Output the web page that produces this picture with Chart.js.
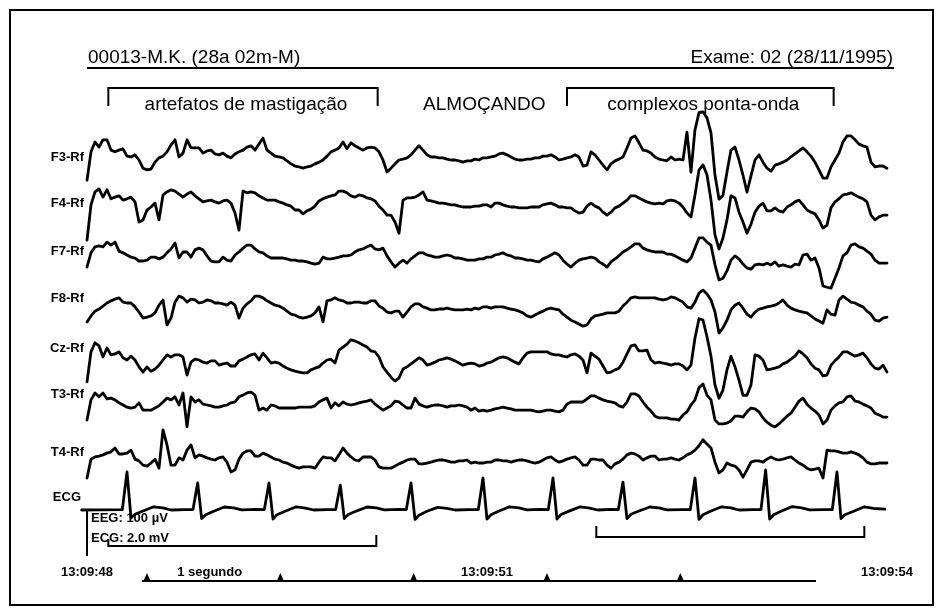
<!DOCTYPE html>
<html>
<head>
<meta charset="utf-8">
<script src="https://cdn.jsdelivr.net/npm/chart.js@4.4.1/dist/chart.umd.min.js"></script>
<style>
  html, body { margin: 0; padding: 0; background: #fff; }
  #wrap { width: 943px; height: 616px; }
</style>
</head>
<body>
<div id="wrap"><canvas id="eeg" width="943" height="616"></canvas></div>
<script>
// EEG page, 13:09:48 -> 13:09:54, one sample every 0.03 s, values in microvolts
const SAMPLE_STEP = 0.03;
const channelNames = ['F3-Rf', 'F4-Rf', 'F7-Rf', 'F8-Rf', 'Cz-Rf', 'T3-Rf', 'T4-Rf'];

const f3 = [
  -47,19,42,30,47,47,23,19,23,26,9,7,12,0,-19,-23,-21,-5,5,9,
  19,35,47,7,16,47,28,28,28,16,21,23,14,12,16,9,5,14,19,23,
  30,33,23,37,51,23,16,9,7,5,-2,-9,-14,-16,-19,-16,-14,-9,-5,0,
  9,19,23,28,42,26,40,33,28,23,28,30,28,19,0,-28,-19,-9,0,2,
  5,12,23,33,23,12,7,7,5,5,2,0,0,-2,-5,-2,-2,2,0,5,
  5,7,9,14,16,12,7,2,0,0,2,2,5,5,9,9,12,7,0,2,
  5,7,12,7,-14,-12,19,12,0,-12,-23,-9,-2,2,7,28,51,56,40,23,
  21,16,7,2,0,-2,7,0,2,0,65,-28,70,110,112,98,63,-35,-91,-82,
  -28,23,30,0,-35,-75,-37,0,12,-5,-19,-26,-12,-9,-5,0,7,14,21,28,
  19,9,-5,-23,-42,-42,-16,0,16,42,56,56,47,37,33,30,-5,-16,-14,-14,
  -19];
const f4 = [
  -77,5,35,42,23,40,19,23,26,16,19,23,12,-35,-30,-7,0,9,-30,28,
  35,40,37,30,23,30,35,26,19,12,14,16,12,9,14,16,9,-14,-54,37,
  33,35,33,26,21,16,16,16,12,9,5,2,-7,-7,-16,-9,-5,2,14,19,
  23,26,28,37,37,33,26,23,28,26,21,19,14,2,-7,-19,-19,-35,-61,16,
  21,21,23,28,35,16,14,12,9,9,7,5,5,2,0,0,0,2,2,5,
  5,0,9,9,5,2,0,0,-2,-2,-2,0,0,0,5,7,9,5,0,0,
  -2,-2,-9,-14,-12,2,9,2,-2,-12,-19,-12,-2,2,9,16,26,26,21,16,
  12,9,7,9,7,14,16,14,9,0,-14,-23,28,86,98,75,16,-65,-98,-72,
  -30,26,21,-12,-35,-61,-40,-12,2,9,-9,-9,-2,-9,-12,0,5,12,16,5,
  -7,-12,-16,-30,-49,-42,-2,12,19,28,30,33,28,23,19,12,-19,-30,-23,-19,
  -19];
const f7 = [
  -28,5,19,21,19,30,23,30,9,5,0,-5,-7,-14,-14,-12,-5,-5,-9,-5,
  5,14,28,-7,7,7,-5,12,16,12,-2,-14,-16,-16,-5,-12,-14,0,7,16,
  23,23,14,7,5,-2,-7,-7,-7,-7,-9,-12,-12,-14,-14,-16,-19,-21,-19,-5,
  -9,-9,-7,-5,-2,-2,0,7,12,14,19,23,14,12,16,-2,-16,-28,-19,-12,
  -19,-9,-2,5,5,0,-2,-5,-5,-2,0,-2,-7,-7,-9,-12,-12,-12,-9,-9,
  -5,-5,0,2,5,0,-2,-7,-7,-9,-12,-12,-14,-16,-9,-5,0,5,0,-12,
  -21,-28,-19,-12,-9,-7,-5,-7,-16,-21,-28,-16,-9,-2,7,12,19,26,26,16,
  12,9,7,7,7,2,2,-2,-7,-12,-16,-7,16,40,40,30,23,-23,-58,-54,
  -37,-12,-2,-9,-21,-30,-33,-23,-21,-23,-19,-23,-16,-26,-23,-26,-28,-21,-23,0,
  2,-12,-7,-30,-72,-75,-77,-54,-30,-2,5,23,26,19,16,9,2,-12,-19,-19,
  -19];
const f8 = [
  -44,-30,-19,-14,-7,0,5,9,12,2,0,0,-9,-21,-35,-33,-30,-23,-5,7,
  -51,-35,2,16,12,2,9,7,0,2,7,5,0,0,-2,-5,2,-5,-35,-12,
  -2,5,16,16,12,5,0,-5,-7,-12,-19,-26,-28,-33,-35,-33,-30,-23,-9,-44,
  5,7,12,7,5,0,0,2,2,0,0,5,5,-7,-12,-21,-23,-19,-19,-33,
  -21,-9,-2,-2,-9,-12,-16,-16,-14,-14,-12,-14,-16,-16,-16,-14,-16,-12,-14,-9,
  -9,-12,-9,-9,-9,-12,-14,-16,-19,-23,-30,-33,-28,-23,-19,-14,-12,-14,-16,-26,
  -33,-40,-44,-49,-54,-51,-37,-30,-28,-26,-23,-23,-23,-19,-7,2,12,14,12,12,
  12,12,12,9,7,9,14,12,7,2,-9,-12,2,23,30,21,7,-21,-70,-58,
  -40,-16,-5,0,-12,-26,-33,-21,-14,-12,-9,-7,-5,0,7,-5,-12,-16,-19,-21,
  -23,-30,-37,-42,-47,-16,-26,-28,7,16,9,2,0,-5,-9,-19,-26,-40,-42,-35,
  -33];
const cz = [
  -51,19,40,33,7,28,12,14,19,5,0,9,0,-16,-28,-16,-26,-21,-12,0,
  12,7,12,12,7,-35,-5,2,0,-5,-7,-2,-2,-12,-9,-7,-14,-14,-2,2,
  7,12,14,0,16,5,-7,-5,-7,-14,-19,-23,-26,-28,-30,-30,-23,-19,-16,-7,
  0,2,-7,23,30,37,47,44,40,35,30,21,19,7,-16,-28,-40,-49,-42,-21,
  -16,-9,-2,5,0,-12,-9,-5,0,2,5,2,-2,-7,-12,-9,-7,-9,-14,-12,
  -7,-5,0,5,7,5,0,-5,-9,5,16,19,19,19,19,19,14,12,12,9,
  7,12,14,9,0,-30,16,9,2,-14,-30,-28,-23,-19,-5,14,33,35,21,21,
  23,0,-7,-5,-7,-9,-12,-9,-9,-14,-23,-12,51,96,93,54,9,-58,-89,-70,
  -23,9,-16,-47,-82,-82,-58,12,9,0,-23,-21,-19,-16,-9,-5,2,9,21,14,
  5,-9,-19,-23,-37,-35,-12,-2,7,19,19,14,9,12,16,5,-9,-19,-21,-12,
  -28];
const t3 = [
  -35,12,28,19,28,14,16,12,5,0,-5,-7,-5,5,-12,-12,-12,-7,-2,7,
  16,12,19,0,28,-51,19,7,12,2,0,-2,-5,-5,-2,0,5,7,19,23,
  28,30,23,-12,-7,-12,0,-2,-7,-7,-7,-7,-7,-5,-5,-5,-5,-2,7,12,
  16,-7,5,-2,7,2,0,2,5,7,9,12,2,-5,-12,-7,-2,9,7,0,
  -7,-7,16,2,-2,-5,-2,0,0,-2,-5,-2,-2,0,-2,-5,-12,-7,-14,-12,
  -14,-12,-9,-7,-5,-7,-9,-12,-12,-12,-12,-12,-14,-16,-14,-12,-12,-14,-16,-12,
  2,7,7,7,7,14,21,21,16,12,9,7,5,-2,-5,7,26,26,21,7,
  -5,-14,-26,-30,-30,-30,-33,-33,-35,-23,-16,0,12,40,49,23,12,-35,-44,-44,
  -42,-37,-26,-26,-28,-16,-7,-9,-16,-30,-40,-47,-51,-44,-35,-26,-19,-5,9,16,
  2,-7,-14,-23,-44,-35,-12,-2,5,7,19,21,9,7,2,-2,-7,-19,-23,-28,
  -28];
const t4 = [
  -42,2,7,9,12,16,19,28,14,14,16,23,2,-2,-12,-14,-7,2,-19,70,
  35,-12,-12,5,0,23,35,5,12,9,5,2,0,5,7,-5,-28,-23,2,16,
  21,21,9,9,16,12,7,2,0,-5,-7,-12,-16,-19,-16,-16,-16,-19,-5,7,
  5,5,-2,12,28,16,7,0,-2,7,7,7,0,-16,-19,-19,-19,-14,-9,-5,
  0,2,2,-9,-9,-7,-5,-2,0,0,-2,-5,-5,-2,-2,0,-7,-5,-7,-7,
  -5,-5,0,0,-2,-2,-5,-2,0,0,-2,-5,-7,-5,0,5,7,0,-5,-2,
  2,5,7,0,-12,-12,2,2,0,0,-12,-19,-9,-5,2,12,16,14,9,0,
  5,9,9,0,2,2,5,2,0,5,12,16,23,33,47,37,28,-5,-30,-23,
  -7,-12,-14,-23,-40,-23,-5,-2,-2,-5,2,7,2,0,2,5,7,0,-7,-12,
  -19,-23,-21,-19,-42,23,21,21,19,16,16,19,16,12,5,-5,-9,-9,-7,-7,
  -7];
const eegSeries = [f3, f4, f7, f8, cz, t3, t4];

// ECG: [time s, millivolts]
const ecg = [
  [-0.04,0.00],[0.10,0.01],[0.265,0.02],[0.30,1.77],[0.33,-0.37],[0.36,-0.20],[0.42,-0.05],[0.50,0.15],[0.57,0.10],[0.63,0.00],[0.74,0.02],
  [0.795,0.02],[0.83,1.26],[0.86,-0.40],[0.89,-0.22],[0.95,-0.06],[1.03,0.14],[1.10,0.10],[1.16,0.01],[1.27,0.03],
  [1.33,0.02],[1.365,1.26],[1.395,-0.42],[1.425,-0.22],[1.49,-0.05],[1.57,0.15],[1.64,0.09],[1.70,0.00],[1.80,0.02],
  [1.865,0.02],[1.90,1.16],[1.93,-0.40],[1.96,-0.21],[2.02,-0.05],[2.10,0.14],[2.17,0.10],[2.23,0.01],[2.34,0.03],
  [2.395,0.02],[2.43,1.26],[2.46,-0.44],[2.49,-0.24],[2.55,-0.06],[2.63,0.12],[2.70,0.08],[2.76,0.00],[2.87,0.02],
  [2.935,0.02],[2.97,1.49],[3.00,-0.42],[3.03,-0.22],[3.09,-0.05],[3.17,0.15],[3.24,0.10],[3.30,0.01],[3.40,0.03],
  [3.46,0.02],[3.495,1.49],[3.525,-0.42],[3.555,-0.21],[3.62,-0.04],[3.70,0.15],[3.77,0.09],[3.83,0.00],[3.93,0.03],
  [3.985,0.02],[4.02,1.30],[4.05,-0.40],[4.08,-0.20],[4.14,-0.05],[4.22,0.14],[4.29,0.10],[4.35,0.01],[4.46,0.02],
  [4.525,0.02],[4.56,1.49],[4.59,-0.44],[4.62,-0.22],[4.68,-0.05],[4.76,0.15],[4.83,0.10],[4.89,0.00],[5.00,0.02],
  [5.055,0.02],[5.09,1.86],[5.12,-0.42],[5.15,-0.22],[5.21,-0.05],[5.29,0.16],[5.36,0.10],[5.42,0.01],[5.53,0.02],
  [5.59,0.02],[5.625,1.77],[5.655,-0.40],[5.685,-0.22],[5.75,-0.06],[5.83,0.15],[5.90,0.07],[5.985,0.04]
];

const timeLabels = ['13:09:48', '13:09:51', '13:09:54'];
const timeLabelSec = [0, 3, 6];
const secondMarks = [0.45, 1.45, 2.45, 3.45, 4.45];
const secondBar = [0.42, 5.46];
const eventNames = ['artefatos de mastigação', 'complexos ponta-onda'];
const eventSpans = [[0.16, 2.18], [3.6, 5.6]];
const ecgSpans = [[0.16, 2.17], [3.82, 5.83]];

// page layout (pixels)
const W = 943, H = 616;
const X0 = 87, PX_PER_S = 133.33;
const UV_PER_PX = 100 / 43;      // 100 uV calibration = 43 px
const ECG_GAIN = 50;             // 2.0 mV drawn like 100 uV
const traceRows = [160, 207, 255, 303, 360, 405, 460];
const labelRows = [157, 203, 251, 298, 348, 394, 452];
const ECG_ROW = 510;
const FONT = '"Liberation Sans", Arial, sans-serif';

const datasets = eegSeries.map((vals, k) => ({
  label: channelNames[k],
  data: vals.map((v, i) => ({ x: i * SAMPLE_STEP, y: -traceRows[k] * UV_PER_PX + v })),
}));
datasets.push({
  label: 'ECG',
  data: ecg.map(([t, mv]) => ({ x: t, y: -ECG_ROW * UV_PER_PX + mv * ECG_GAIN })),
});
datasets.forEach(d => Object.assign(d, {
  borderColor: '#000', borderWidth: 2.8, pointRadius: 0, tension: 0,
  borderJoinStyle: 'round', borderCapStyle: 'round', clip: false
}));

const decor = {
  id: 'decor',
  afterDraw(chart) {
    const ctx = chart.ctx;
    const xs = chart.scales.x, ys = chart.scales.y;
    const px = t => xs.getPixelForValue(t);
    const line = (pts, w) => {
      ctx.lineWidth = w || 2;
      ctx.beginPath();
      pts.forEach(([x, y], i) => i ? ctx.lineTo(x, y) : ctx.moveTo(x, y));
      ctx.stroke();
    };
    ctx.save();
    ctx.strokeStyle = '#000';
    ctx.fillStyle = '#000';
    ctx.lineCap = 'square';

    // frame
    ctx.lineWidth = 2;
    ctx.strokeRect(10, 10, W - 20, H - 21);

    // header
    ctx.font = '19px ' + FONT;
    ctx.textBaseline = 'alphabetic';
    ctx.textAlign = 'left';
    ctx.fillText('00013-M.K. (28a 02m-M)', px(0) + 1, 63);
    ctx.textAlign = 'right';
    ctx.fillText('Exame: 02 (28/11/1995)', 893, 63);
    line([[px(0) + 1, 68], [893, 68]], 2);

    // event brackets on top
    eventSpans.forEach(([a, b], k) => {
      line([[px(a), 105], [px(a), 88], [px(b), 88], [px(b), 105]], 2);
      ctx.textAlign = 'center';
      ctx.fillText(eventNames[k], (px(a) + px(b)) / 2 + 3, 110);
    });
    ctx.fillText('ALMOÇANDO', px(2.98), 110);

    // channel labels
    ctx.font = 'bold 13px ' + FONT;
    ctx.textAlign = 'right';
    ctx.textBaseline = 'middle';
    channelNames.forEach((n, k) => ctx.fillText(n, px(0) - 3, labelRows[k]));
    ctx.fillText('ECG', px(0) - 6, 497);

    // calibration
    const cal = ys.getPixelForValue(-100) - ys.getPixelForValue(0);
    line([[px(0), 512], [px(0), 512 + cal]], 2);
    ctx.textAlign = 'left';
    ctx.font = 'bold 13px ' + FONT;
    ctx.fillText('EEG: 100 µV', px(0) + 4, 518);
    ctx.fillText('ECG: 2.0 mV', px(0) + 4, 538);

    // ECG-row brackets
    line([[px(ecgSpans[0][0]), 540], [px(ecgSpans[0][0]), 546], [px(ecgSpans[0][1]), 546], [px(ecgSpans[0][1]), 536]], 2);
    line([[px(ecgSpans[1][0]), 527], [px(ecgSpans[1][0]), 537], [px(ecgSpans[1][1]), 537], [px(ecgSpans[1][1]), 527]], 2);

    // time axis
    ctx.textAlign = 'center';
    ctx.textBaseline = 'alphabetic';
    timeLabels.forEach((s, k) => ctx.fillText(s, px(timeLabelSec[k]), 576));
    ctx.fillText('1 segundo', px(0.92), 576);
    line([[px(secondBar[0]), 581], [px(secondBar[1]), 581]], 2);
    secondMarks.forEach(t => {
      const x = px(t);
      ctx.beginPath();
      ctx.moveTo(x - 4, 582); ctx.lineTo(x, 573); ctx.lineTo(x + 4, 582);
      ctx.closePath();
      ctx.fill();
    });
    ctx.restore();
  }
};

new Chart(document.getElementById('eeg'), {
  type: 'line',
  data: { datasets },
  options: {
    responsive: false,
    animation: false,
    events: [],
    layout: { padding: 0 },
    plugins: { legend: { display: false }, tooltip: { enabled: false } },
    scales: {
      x: { type: 'linear', display: false, min: -X0 / PX_PER_S, max: (W - X0) / PX_PER_S },
      y: { type: 'linear', display: false, min: -H * UV_PER_PX, max: 0 }
    }
  },
  plugins: [decor]
});
</script>
</body>
</html>
